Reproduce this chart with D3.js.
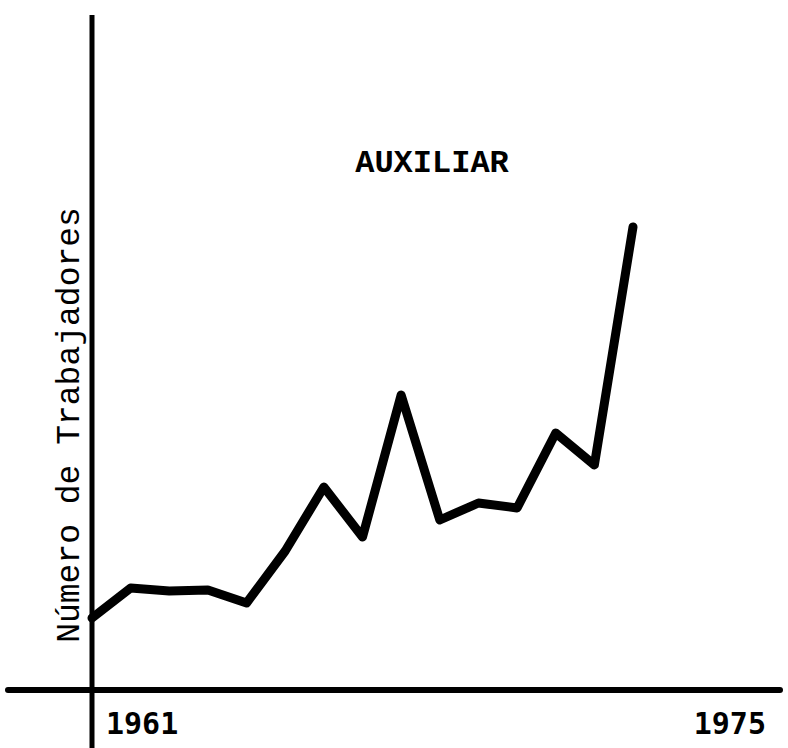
<!DOCTYPE html>
<html>
<head>
<meta charset="utf-8">
<script src="https://cdn.jsdelivr.net/npm/d3@7"></script>
<style>
  body { margin: 0; background: #fff; }
  svg { display: block; }
</style>
</head>
<body>
<div id="chart-container"></div>
<script>
// years on the x axis, one point per year
var years = [1961, 1962, 1963, 1964, 1965, 1966, 1967, 1968, 1969, 1970, 1971, 1972, 1973, 1974, 1975];
// number of workers (arbitrary units)
var trabajadores = [72, 102, 99, 100, 87, 139, 203, 153, 295, 170, 187, 182, 257, 225, 463];
var yearLabels = ["1961", "1975"];
var chartTitle = "AUXILIAR";
var yTitle = "Número de Trabajadores";

var width = 788, height = 748;

var svg = d3.select("#chart-container").append("svg")
  .attr("width", width)
  .attr("height", height);

var x = d3.scaleLinear()
  .domain([1961, 1975])
  .range([92, 633]);

var y = d3.scaleLinear()
  .domain([0, 500])
  .range([690, 190]);

var data = years.map(function(d, i) { return { year: d, value: trabajadores[i] }; });

// axes, drawn as plain heavy lines like the typed original
svg.append("line")
  .attr("x1", 8).attr("x2", 780)
  .attr("y1", y(0)).attr("y2", y(0))
  .attr("stroke", "#000")
  .attr("stroke-width", 6)
  .attr("stroke-linecap", "round");

svg.append("line")
  .attr("x1", x(1961)).attr("x2", x(1961))
  .attr("y1", 15).attr("y2", 748)
  .attr("stroke", "#000")
  .attr("stroke-width", 5);

// the series
var line = d3.line()
  .x(function(d) { return x(d.year); })
  .y(function(d) { return y(d.value); });

svg.append("path")
  .datum(data)
  .attr("d", line)
  .attr("fill", "none")
  .attr("stroke", "#000")
  .attr("stroke-width", 9)
  .attr("stroke-linejoin", "round")
  .attr("stroke-linecap", "round");

// year labels under the axis
svg.selectAll(".yearlabel")
  .data(yearLabels)
  .enter()
  .append("text")
  .attr("class", "yearlabel")
  .attr("x", function(d, i) { return i === 0 ? 106 : 766; })
  .attr("y", 734)
  .attr("text-anchor", function(d, i) { return i === 0 ? "start" : "end"; })
  .attr("font-family", "'DejaVu Sans Mono', 'Liberation Mono', monospace")
  .attr("font-weight", "bold")
  .attr("font-size", 30)
  .attr("fill", "#000")
  .text(function(d) { return d; });

// title
svg.append("text")
  .attr("x", 432)
  .attr("y", 172)
  .attr("text-anchor", "middle")
  .attr("font-family", "'Liberation Mono', 'DejaVu Sans Mono', monospace")
  .attr("font-weight", "bold")
  .attr("font-size", 32)
  .attr("fill", "#000")
  .text(chartTitle);

// y axis title
svg.append("text")
  .attr("transform", "translate(79,425) rotate(-90)")
  .attr("text-anchor", "middle")
  .attr("font-family", "'Liberation Mono', 'DejaVu Sans Mono', monospace")
  .attr("font-size", 33)
  .attr("fill", "#000")
  .text(yTitle);
</script>
</body>
</html>
